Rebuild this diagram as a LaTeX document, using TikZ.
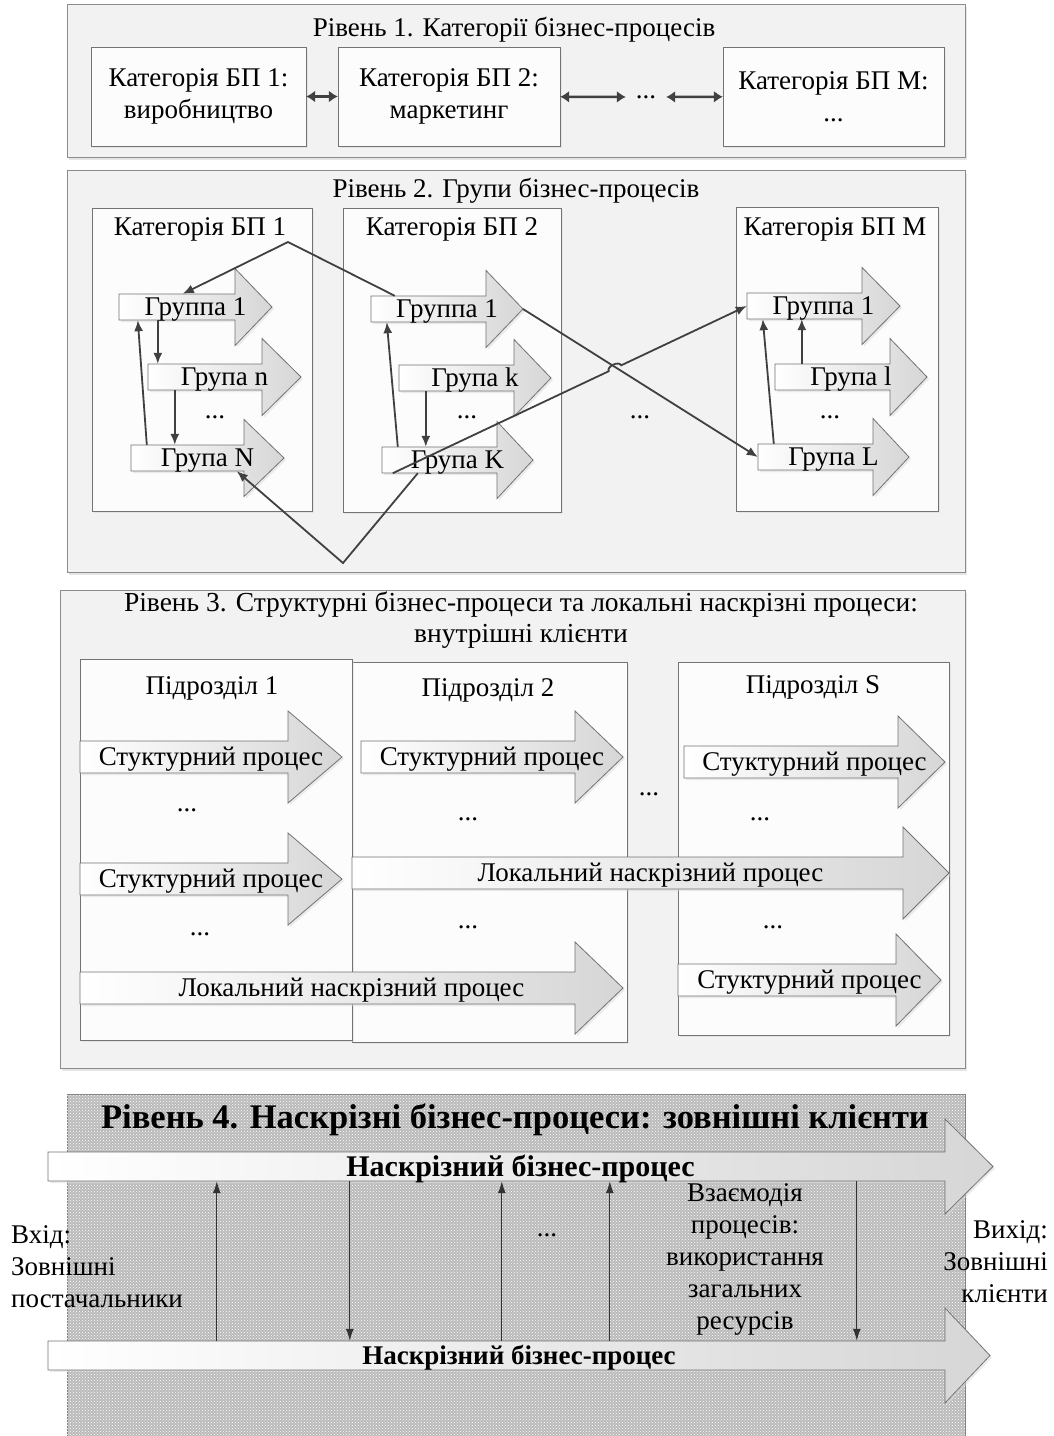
\documentclass[tikz,border=0pt]{standalone}
\usepackage{fontspec}
\setmainfont{Liberation Serif}
\usetikzlibrary{arrows.meta,shadows,patterns,fit,calc}

\newcommand{\barrow}[8]{%
        \shade[arrbody] (#2,#3-#6) -- (#4,#3-#6) -- (#4,#3-#7) -- (#5,#3) -- (#4,#3+#7) -- (#4,#3+#6) -- (#2,#3+#6) -- cycle;
        \node[fit={(#2,#3-#6) (#4,#3+#6)},inner sep=0pt] (#1) {};
        \coordinate (#1h) at (#5,#3);
        \node[txt,yshift=-2.5pt] (#1t) at ({(#2+#5)/2},#3) {#8};
}

\begin{document}
\begin{tikzpicture}[x=1pt,y=-1pt,
    txt/.style={inner sep=1pt,align=center,font=\fontsize{27}{32}\selectfont},
    lvl/.style={draw=black!45,fill=black!5,inner sep=0pt,drop shadow={shadow xshift=2pt,shadow yshift=-3pt,fill=black!20}},
    box/.style={draw=black!55,fill=black!1,inner sep=0pt,drop shadow={shadow xshift=2pt,shadow yshift=-2pt,fill=black!15}},
    arrbody/.style={left color=white,right color=black!16,draw=black!55,line width=0.8pt,drop shadow={shadow xshift=2pt,shadow yshift=-2pt,fill=black!15}},
    dbl/.style={{Latex[length=9pt,width=12pt]}-{Latex[length=9pt,width=12pt]},line width=2.5pt,draw=black!75},
    conn/.style={draw=black!75,line width=1.8pt,-{Latex[length=11pt,width=9pt]}},
    vconn/.style={draw=black!80,line width=1.2pt,-{Latex[length=12pt,width=8pt]}}]
        \useasboundingbox (0,0) rectangle (1053,1436);

        \node[lvl,fit={(67,4) (965,157)}] (lev1) {};
        \node[txt] (lev1t) at (514,30) {Рівень 1. Категорії бізнес-процесів};
        \node[box,fit={(91,47) (306,146)}] (c1) {};
        \node[box,fit={(338,47) (560,146)}] (c2) {};
        \node[box,fit={(723,47) (944,146)}] (c3) {};
        \node[txt] (c1t) at (c1) {Категорія БП 1:\\виробництво};
        \node[txt] (c2t) at (c2) {Категорія БП 2:\\маркетинг};
        \node[txt] (c3t) at (c3) {Категорія БП M:\\...};
        \node[txt,minimum width=40pt] (d1) at (646,97) {...};
        \draw[dbl] (c1) -- (c2);
        \draw[dbl] (c2) -- (d1);
        \draw[dbl] (d1) -- (c3);

        \node[lvl,fit={(67,170) (965,572)}] (lev2) {};
        \node[txt] (lev2t) at (516,191) {Рівень 2. Групи бізнес-процесів};
        \node[box,fit={(92,208) (312,511)}] (k1) {};
        \node[box,fit={(343,208) (561,512)}] (k2) {};
        \node[box,fit={(736,207) (938,511)}] (kM) {};
        \node[txt] (k1t) at (200,229) {Категорія БП 1};
        \node[txt] (k2t) at (452,229) {Категорія БП 2};
        \node[txt] (kMt) at (835,229) {Категорія БП M};
        \barrow{g11}{119}{307}{235}{272}{13}{38.5}{Группа 1}
        \barrow{g1n}{148}{377}{262}{301}{13}{38.5}{Група n}
        \barrow{g1N}{131}{458}{244}{284}{13}{38.5}{Група N}
        \barrow{g21}{371}{309}{486}{523}{13}{38.5}{Группа 1}
        \barrow{g2k}{399}{378}{514}{551}{13}{38.5}{Група k}
        \barrow{g2K}{382}{460}{497}{533}{13}{38.5}{Група K}
        \barrow{gM1}{747}{306}{862}{900}{13}{38.5}{Группа 1}
        \barrow{gMl}{775}{377}{890}{927}{13}{38.5}{Група l}
        \barrow{gML}{758}{457}{873}{909}{13}{38.5}{Група L}
        \node[txt] (d21) at (215,417) {...};
        \node[txt] (d22) at (467,417) {...};
        \node[txt] (d23) at (640,417) {...};
        \node[txt] (d24) at (830,417) {...};
        \coordinate (pk) at (288,242);
        \coordinate (vb) at (343,563);
        \draw[conn] ([xshift=24pt]g21.north west) -- (pk) -- ([xshift=64pt]g11.north west);
        \draw[conn] ([xshift=39pt]g11.south west) -- ([xshift=10pt]g1n.north west);
        \draw[conn] ([xshift=27pt]g1n.south west) -- ([xshift=44pt]g1N.north west);
        \draw[conn] ([xshift=16pt]g1N.north west) -- ([xshift=19pt]g11.south west);
        \draw[conn] ([xshift=16pt]g2K.north west) -- ([xshift=16pt]g21.south west);
        \draw[conn] ([xshift=27pt]g2k.south west) -- ([xshift=44pt]g2K.north west);
        \draw[conn] (g21h) -- (gML.west);
        \draw[conn] ([xshift=11pt]g2K.south west) -- ($([xshift=11pt]g2K.south west)!0.61!(gM1.west)$) to[bend left=90] ($([xshift=11pt]g2K.south west)!0.645!(gM1.west)$) -- (gM1.west);
        \draw[conn] ([xshift=36pt]g2K.south west) -- (vb) -- ([xshift=106pt]g1N.south west);
        \draw[conn] ([xshift=16pt]gML.north west) -- ([xshift=16pt]gM1.south west);
        \draw[conn] ([xshift=27pt]gMl.north west) -- ([xshift=55pt]gM1.south west);

        \node[lvl,fit={(60,590) (965,1068)}] (lev3) {};
        \node[txt,font=\fontsize{27.5}{31}\selectfont] (lev3t) at (521,620) {Рівень 3. Структурні бізнес-процеси та локальні наскрізні процеси:\\внутрішні клієнти};
        \node[box,fit={(352,662) (627,1042)}] (p2) {};
        \node[box,fit={(80,659) (352,1040)}] (p1) {};
        \node[box,fit={(678,662) (949,1035)}] (pS) {};
        \node[txt] (p1t) at (212,688) {Підрозділ 1};
        \node[txt] (p2t) at (488,690) {Підрозділ 2};
        \node[txt] (pSt) at (813,687) {Підрозділ S};
        \barrow{s11}{80}{757}{288}{342}{16}{46}{Стуктурний процес}
        \barrow{s12}{80}{879}{288}{342}{16}{46}{Стуктурний процес}
        \barrow{l1}{80}{988}{575}{623}{16}{46}{Локальний наскрізний процес}
        \barrow{s21}{361}{757}{575}{623}{16}{46}{Стуктурний процес}
        \barrow{l2}{352}{873}{903}{949}{16}{46}{Локальний наскрізний процес}
        \barrow{sS1}{684}{762}{898}{945}{16}{46}{Стуктурний процес}
        \barrow{sS2}{678}{980}{896}{941}{16}{46}{Стуктурний процес}
        \node[txt] (d31) at (187,810) {...};
        \node[txt] (d32) at (200,934) {...};
        \node[txt] (d33) at (468,819) {...};
        \node[txt] (d34) at (468,927) {...};
        \node[txt] (d35) at (649,794) {...};
        \node[txt] (d36) at (760,819) {...};
        \node[txt] (d37) at (773,927) {...};

        \node[draw=black!50,fill=black!27,inner sep=0pt,fit={(67,1094) (965,1445)}] (lev4) {};
        \fill[pattern=crosshatch dots,pattern color=white] (lev4.north west) rectangle (lev4.south east);
        \node[txt,font=\fontsize{34.5}{40}\selectfont\bfseries] (lev4t) at (515,1120) {Рівень 4. Наскрізні бізнес-процеси: зовнішні клієнти};
        \barrow{e1}{48}{1166.5}{945}{993}{14.5}{47.5}{\fontsize{30}{32}\selectfont\bfseries Наскрізний бізнес-процес}
        \barrow{e2}{48}{1355.5}{945}{990}{14.5}{47.5}{\bfseries Наскрізний бізнес-процес}
        \draw[vconn] ([xshift=169pt]e2.north west) -- ([xshift=169pt]e1.south west);
        \draw[vconn] ([xshift=302pt]e1.south west) -- ([xshift=302pt]e2.north west);
        \draw[vconn] ([xshift=454pt]e2.north west) -- ([xshift=454pt]e1.south west);
        \draw[vconn] ([xshift=562pt]e2.north west) -- ([xshift=562pt]e1.south west);
        \draw[vconn] ([xshift=809pt]e1.south west) -- ([xshift=809pt]e2.north west);
        \node[txt] (d41) at (547,1235) {...};
        \node[txt] (vz) at (745,1259) {Взаємодія\\процесів:\\використання\\загальних\\ресурсів};
        \node[txt,align=left,anchor=west] (vin) at (10,1267) {Вхід:\\Зовнішні\\постачальники};
        \node[txt,align=right,anchor=east] (vout) at (1049,1262) {Вихід:\\Зовнішні\\клієнти};
    \end{tikzpicture}
\end{document}
